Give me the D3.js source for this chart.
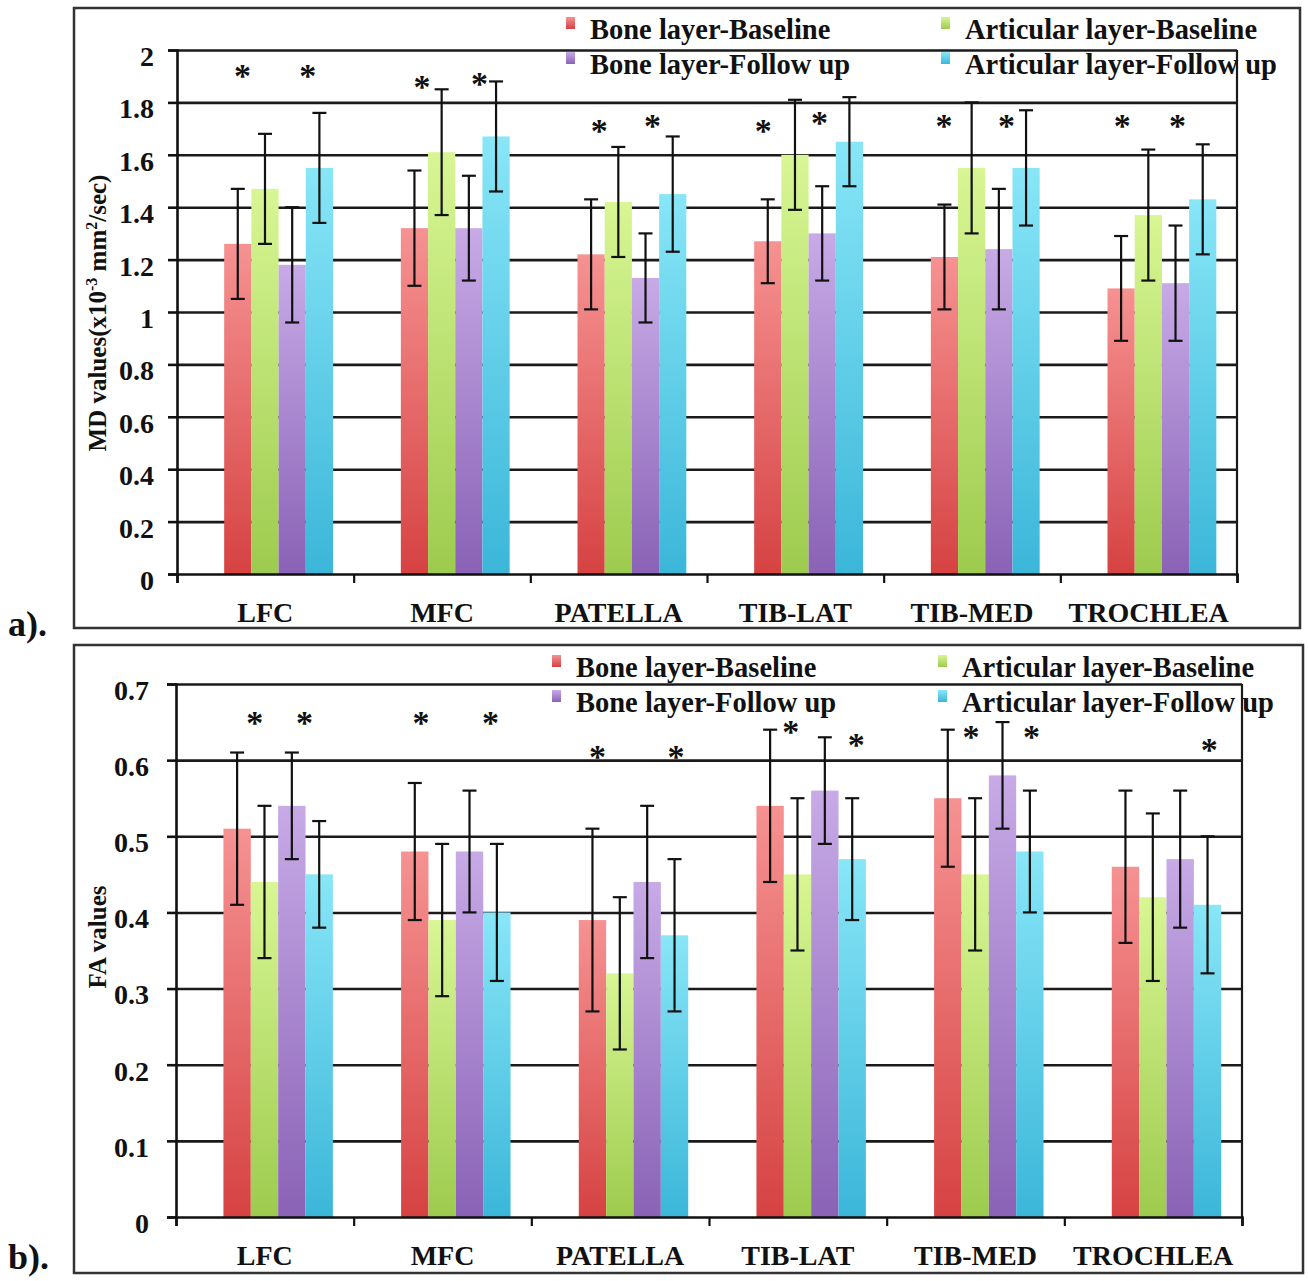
<!DOCTYPE html>
<html>
<head>
<meta charset="utf-8">
<script src="https://cdn.jsdelivr.net/npm/d3@7"></script>
<style>
  body { margin: 0; background: #fff; }
  svg text { font-family: "Liberation Serif", "Times New Roman", serif; font-weight: bold; fill: #111; }
</style>
</head>
<body>
<svg id="fig" width="1308" height="1281"></svg>
<script>
// Categories and series
const categories = ["LFC", "MFC", "PATELLA", "TIB-LAT", "TIB-MED", "TROCHLEA"];
const seriesNames = ["Bone layer-Baseline", "Articular layer-Baseline", "Bone layer-Follow up", "Articular layer-Follow up"];

// a) MD values (x10^-3 mm^2/sec), means and SD
const mdBoneBaseline      = [1.26, 1.32, 1.22, 1.27, 1.21, 1.09];
const mdBoneBaselineSD    = [0.21, 0.22, 0.21, 0.16, 0.20, 0.20];
const mdArticBaseline     = [1.47, 1.61, 1.42, 1.60, 1.55, 1.37];
const mdArticBaselineSD   = [0.21, 0.24, 0.21, 0.21, 0.25, 0.25];
const mdBoneFollowUp      = [1.18, 1.32, 1.13, 1.30, 1.24, 1.11];
const mdBoneFollowUpSD    = [0.22, 0.20, 0.17, 0.18, 0.23, 0.22];
const mdArticFollowUp     = [1.55, 1.67, 1.45, 1.65, 1.55, 1.43];
const mdArticFollowUpSD   = [0.21, 0.21, 0.22, 0.17, 0.22, 0.21];
const mdTicks      = [0, 0.2, 0.4, 0.6, 0.8, 1, 1.2, 1.4, 1.6, 1.8, 2];
const mdTickLabels = ["0", "0.2", "0.4", "0.6", "0.8", "1", "1.2", "1.4", "1.6", "1.8", "2"];
// significance marks: category, position in bar slots, value level
const mdStars = [
  ["LFC", 0.67, 1.92], ["LFC", 3.07, 1.92],
  ["MFC", 0.78, 1.88], ["MFC", 2.89, 1.89],
  ["PATELLA", 0.80, 1.71], ["PATELLA", 2.76, 1.73],
  ["TIB-LAT", 0.33, 1.71], ["TIB-LAT", 2.40, 1.74],
  ["TIB-MED", 0.48, 1.73], ["TIB-MED", 2.78, 1.73],
  ["TROCHLEA", 0.54, 1.73], ["TROCHLEA", 2.57, 1.73]
];

// b) FA values, means and SD
const faBoneBaseline      = [0.51, 0.48, 0.39, 0.54, 0.55, 0.46];
const faBoneBaselineSD    = [0.10, 0.09, 0.12, 0.10, 0.09, 0.10];
const faArticBaseline     = [0.44, 0.39, 0.32, 0.45, 0.45, 0.42];
const faArticBaselineSD   = [0.10, 0.10, 0.10, 0.10, 0.10, 0.11];
const faBoneFollowUp      = [0.54, 0.48, 0.44, 0.56, 0.58, 0.47];
const faBoneFollowUpSD    = [0.07, 0.08, 0.10, 0.07, 0.07, 0.09];
const faArticFollowUp     = [0.45, 0.40, 0.37, 0.47, 0.48, 0.41];
const faArticFollowUpSD   = [0.07, 0.09, 0.10, 0.08, 0.08, 0.09];
const faTicks      = [0, 0.1, 0.2, 0.3, 0.4, 0.5, 0.6, 0.7];
const faTickLabels = ["0", "0.1", "0.2", "0.3", "0.4", "0.5", "0.6", "0.7"];
const faStars = [
  ["LFC", 1.14, 0.656], ["LFC", 2.96, 0.656],
  ["MFC", 0.73, 0.656], ["MFC", 3.27, 0.656],
  ["PATELLA", 0.68, 0.611], ["PATELLA", 3.55, 0.611],
  ["TIB-LAT", 1.25, 0.644], ["TIB-LAT", 3.65, 0.627],
  ["TIB-MED", 1.35, 0.637], ["TIB-MED", 3.56, 0.637],
  ["TROCHLEA", 3.56, 0.620]
];

// bar colours, light top to darker bottom
const barColors = [
  ["#f69292", "#d64242"],
  ["#d8f694", "#9dcb4e"],
  ["#c7aae6", "#8a62b6"],
  ["#88e6f7", "#3bb6d9"]
];

const svg = d3.select("#fig");
const defs = svg.append("defs");
barColors.forEach((c, i) => {
  const g = defs.append("linearGradient").attr("id", "grad" + i)
    .attr("x1", 0).attr("y1", 0).attr("x2", 0).attr("y2", 1);
  g.append("stop").attr("offset", "0%").attr("stop-color", c[0]);
  g.append("stop").attr("offset", "100%").attr("stop-color", c[1]);
});

function drawPanel(p) {
  const root = svg.append("g");

  // outer frame
  root.append("rect")
    .attr("x", p.frame[0]).attr("y", p.frame[1])
    .attr("width", p.frame[2]).attr("height", p.frame[3])
    .attr("fill", "none").attr("stroke", "#333").attr("stroke-width", 2.5);

  const x0 = d3.scaleBand().domain(categories).range([p.left, p.right]);
  const bw = x0.bandwidth();
  const x1 = d3.scaleBand().domain(d3.range(seriesNames.length))
    .range([bw * 0.267, bw * 0.883]);
  const y = d3.scaleLinear().domain([0, p.ticks[p.ticks.length - 1]]).range([p.bottom, p.top]);

  // gridlines
  root.append("g")
    .attr("transform", `translate(${p.left},0)`)
    .call(d3.axisLeft(y).tickValues(p.ticks.slice(1)).tickSize(-(p.right - p.left)).tickFormat(""))
    .call(g => g.select(".domain").remove())
    .selectAll("line").attr("stroke", "#1a1a1a").attr("stroke-width", 2.6);

  // plot right border
  root.append("line")
    .attr("x1", p.right).attr("x2", p.right).attr("y1", p.top).attr("y2", p.bottom)
    .attr("stroke", "#1a1a1a").attr("stroke-width", 2.2);

  // bars
  const groups = root.append("g").selectAll("g")
    .data(p.series)
    .join("g");
  groups.selectAll("rect")
    .data((s, si) => s.values.map((v, ci) => ({si, cat: categories[ci], v})))
    .join("rect")
    .attr("x", d => x0(d.cat) + x1(d.si))
    .attr("y", d => y(d.v))
    .attr("width", x1.bandwidth())
    .attr("height", d => y(0) - y(d.v))
    .attr("fill", d => `url(#grad${d.si})`);

  // error bars
  const errs = [];
  p.series.forEach((s, si) => s.values.forEach((v, ci) => errs.push({si, cat: categories[ci], v, e: s.sd[ci]})));
  const cx = d => x0(d.cat) + x1(d.si) + x1.bandwidth() / 2;
  const eg = root.append("g").attr("stroke", "#111").attr("stroke-width", 2.2);
  eg.selectAll(".stem").data(errs).join("line")
    .attr("x1", cx).attr("x2", cx)
    .attr("y1", d => y(d.v + d.e)).attr("y2", d => y(d.v - d.e));
  eg.selectAll(".capTop").data(errs).join("line")
    .attr("x1", d => cx(d) - 7).attr("x2", d => cx(d) + 7)
    .attr("y1", d => y(d.v + d.e)).attr("y2", d => y(d.v + d.e));
  eg.selectAll(".capBot").data(errs).join("line")
    .attr("x1", d => cx(d) - 7).attr("x2", d => cx(d) + 7)
    .attr("y1", d => y(d.v - d.e)).attr("y2", d => y(d.v - d.e));

  // y axis
  const yAxis = root.append("g")
    .attr("transform", `translate(${p.left},0)`)
    .call(d3.axisLeft(y).tickValues(p.ticks).tickSize(9).tickPadding(p.tickPad)
      .tickFormat((d, i) => p.tickLabels[i]));
  yAxis.select(".domain").attr("stroke", "#111").attr("stroke-width", 2.6);
  yAxis.selectAll("line").attr("stroke", "#111").attr("stroke-width", 2.6);
  yAxis.selectAll("text")
    .attr("dy", "0.55em")
    .style("font-family", "'Liberation Serif', serif")
    .style("font-weight", "bold")
    .style("font-size", "28px")
    .attr("fill", "#111");

  // x axis: boundary ticks
  const xb = d3.scaleLinear().domain([0, categories.length]).range([p.left, p.right]);
  const xAxis = root.append("g")
    .attr("transform", `translate(0,${p.bottom})`)
    .call(d3.axisBottom(xb).ticks(categories.length).tickSize(9).tickSizeOuter(9).tickFormat(""));
  xAxis.select(".domain").attr("stroke", "#111").attr("stroke-width", 2.6);
  xAxis.selectAll("line").attr("stroke", "#111").attr("stroke-width", 2.2);

  // category labels
  const xl = root.append("g")
    .attr("transform", `translate(0,${p.bottom})`)
    .call(d3.axisBottom(x0).tickSize(0).tickPadding(p.labelGap));
  xl.select(".domain").remove();
  xl.selectAll("text")
    .style("font-family", "'Liberation Serif', serif")
    .style("font-weight", "bold")
    .style("font-size", "28px")
    .attr("fill", "#111");

  // significance asterisks
  root.append("g").selectAll("text")
    .data(p.stars)
    .join("text")
    .attr("x", d => x0(d[0]) + x1(0) + d[1] * x1.bandwidth())
    .attr("y", d => y(d[2]))
    .attr("dy", "0.48em")
    .attr("text-anchor", "middle")
    .style("font-size", "34px")
    .text("*");

  // axis title
  const t = root.append("text")
    .attr("transform", `translate(${p.titleX},${p.titleY}) rotate(-90)`)
    .attr("text-anchor", "middle")
    .style("font-size", "25px");
  p.title.forEach(part => {
    t.append("tspan")
      .attr("dy", part.dy || 0)
      .style("font-size", part.sup ? "16px" : "25px")
      .text(part.text);
  });

  // legend
  const lg = root.append("g");
  seriesNames.forEach((name, i) => {
    const lx = p.legendX[i % 2], ly = p.legendY[Math.floor(i / 2)];
    lg.append("rect")
      .attr("x", lx - 24).attr("y", ly - 22)
      .attr("width", 9).attr("height", 12)
      .attr("fill", `url(#grad${i})`);
    lg.append("text")
      .attr("x", lx).attr("y", ly)
      .style("font-size", "28.5px")
      .text(name);
  });

  // panel label
  root.append("text")
    .attr("x", 8).attr("y", p.tagY)
    .style("font-size", "36px")
    .text(p.tag);
}

drawPanel({
  frame: [74, 8, 1226, 620],
  left: 177, right: 1237, top: 50, bottom: 574,
  ticks: mdTicks, tickLabels: mdTickLabels, tickPad: 14,
  series: [
    {values: mdBoneBaseline, sd: mdBoneBaselineSD},
    {values: mdArticBaseline, sd: mdArticBaselineSD},
    {values: mdBoneFollowUp, sd: mdBoneFollowUpSD},
    {values: mdArticFollowUp, sd: mdArticFollowUpSD}
  ],
  stars: mdStars,
  labelGap: 28,
  titleX: 106, titleY: 313,
  title: [
    {text: "MD values(x10"},
    {text: "-3", sup: true, dy: "-0.55em"},
    {text: " mm", dy: "0.35em"},
    {text: "2", sup: true, dy: "-0.55em"},
    {text: "/sec)", dy: "0.35em"}
  ],
  legendX: [590, 965], legendY: [39, 74],
  tag: "a).", tagY: 636
});

drawPanel({
  frame: [74, 645, 1229, 628],
  left: 176, right: 1242, top: 684, bottom: 1217,
  ticks: faTicks, tickLabels: faTickLabels, tickPad: 18,
  series: [
    {values: faBoneBaseline, sd: faBoneBaselineSD},
    {values: faArticBaseline, sd: faArticBaselineSD},
    {values: faBoneFollowUp, sd: faBoneFollowUpSD},
    {values: faArticFollowUp, sd: faArticFollowUpSD}
  ],
  stars: faStars,
  labelGap: 28,
  titleX: 106, titleY: 937,
  title: [{text: "FA values"}],
  legendX: [576, 962], legendY: [677, 712],
  tag: "b).", tagY: 1269
});
</script>
</body>
</html>
